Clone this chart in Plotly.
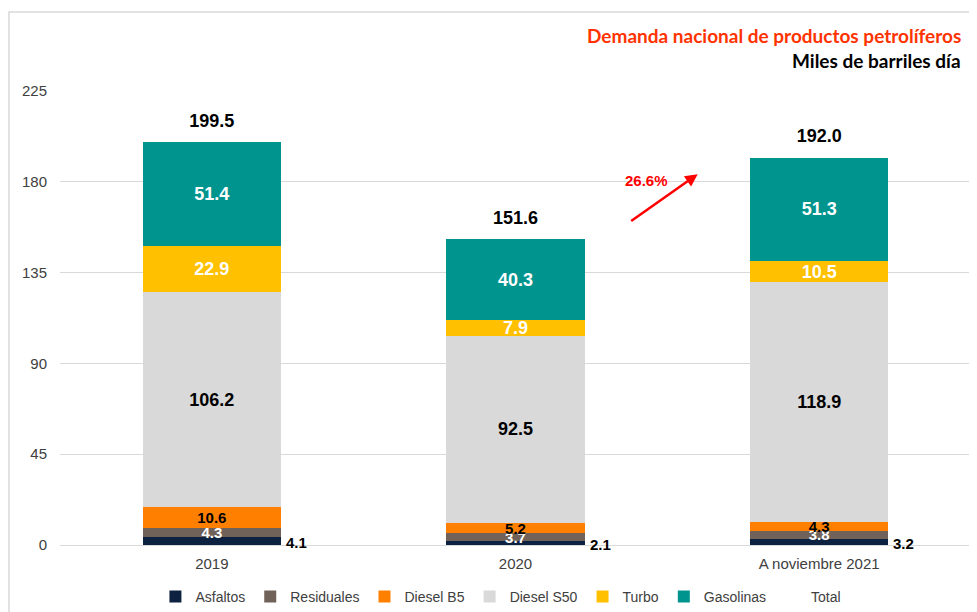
import plotly.graph_objects as go

categories = ["2019", "2020", "A noviembre 2021"]
asfaltos = [4.1, 2.1, 3.2]
residuales = [4.3, 3.7, 3.8]
diesel_b5 = [10.6, 5.2, 4.3]
diesel_s50 = [106.2, 92.5, 118.9]
turbo = [22.9, 7.9, 10.5]
gasolinas = [51.4, 40.3, 51.3]
totals = [199.5, 151.6, 192.0]
y_ticks = [0, 45, 90, 135, 180, 225]

FONT = "Liberation Sans, Arial, sans-serif"
TITLE_FONT = "Lato, Carlito, Calibri, sans-serif"

series = [
    ("Asfaltos", asfaltos, "#0D2140", "none", "black", 15),
    ("Residuales", residuales, "#706259", "inside", "white", 15),
    ("Diesel B5", diesel_b5, "#FF8000", "inside", "black", 15),
    ("Diesel S50", diesel_s50, "#D9D9D9", "inside", "black", 18),
    ("Turbo", turbo, "#FFC000", "inside", "white", 18),
    ("Gasolinas", gasolinas, "#00948F", "inside", "white", 18),
]

fig = go.Figure()
for name, vals, color, tpos, tcolor, tsize in series:
    fig.add_trace(go.Bar(
        name=name, x=categories, y=vals,
        marker=dict(color=color, line=dict(width=0)),
        text=[f"{v:.1f}" for v in vals],
        textposition=tpos,
        insidetextanchor="middle",
        textangle=0,
        constraintext="none",
        insidetextfont=dict(family=FONT, size=tsize, color=tcolor, weight="bold"),
        hoverinfo="skip",
    ))

# Total legend entry (no visible symbol)
fig.add_trace(go.Scatter(
    name="Total", x=categories, y=totals, mode="lines",
    line=dict(color="rgba(0,0,0,0)", width=0), hoverinfo="skip",
))
# Total labels above bars
fig.add_trace(go.Scatter(
    x=categories, y=totals, mode="markers+text",
    marker=dict(size=16, color="rgba(0,0,0,0)"),
    text=[f"{t:.1f}" for t in totals],
    textposition="top center",
    textfont=dict(family=FONT, size=18, color="black", weight="bold"),
    showlegend=False, hoverinfo="skip", cliponaxis=False,
))

annotations = []
# Asfaltos labels to the right of the bars (x given as category index)
for i, v in enumerate(asfaltos):
    annotations.append(dict(
        x=i, y=v / 2, xref="x", yref="y", text=f"{v:.1f}", showarrow=False,
        xanchor="left", yanchor="middle", xshift=72, yshift=-2,
        font=dict(family=FONT, size=15, color="black", weight="bold"),
    ))

# Growth arrow 2020 -> 2021
growth = (totals[2] / totals[1] - 1) * 100
annotations.append(dict(
    x=1.60, y=183.8, ax=1.376, ay=160.0, xref="x", yref="y", axref="x", ayref="y",
    text="", showarrow=True, arrowhead=2, arrowsize=1.0, arrowwidth=2.5,
    arrowcolor="#FF0000",
))
annotations.append(dict(
    x=1.432, y=180.4, xref="x", yref="y", text=f"{growth:.1f}%", showarrow=False,
    font=dict(family=FONT, size=15, color="#FF0000", weight="bold"),
))

# Titles
annotations.append(dict(
    x=0.991, y=1.123, xref="paper", yref="paper", xanchor="right", yanchor="middle",
    text="Demanda nacional de productos petrolíferos", showarrow=False,
    font=dict(family=TITLE_FONT, size=19, color="#FF3300", weight="bold"),
))
annotations.append(dict(
    x=0.991, y=1.068, xref="paper", yref="paper", xanchor="right", yanchor="middle",
    text="Miles de barriles día", showarrow=False,
    font=dict(family=TITLE_FONT, size=19, color="black", weight="bold"),
))

fig.update_layout(
    width=969, height=604,
    margin=dict(l=52, r=6, t=83, b=67, autoexpand=False),
    barmode="stack", bargap=0.545,
    plot_bgcolor="white", paper_bgcolor="white",
    font=dict(family=FONT, size=15, color="#404040"),
    xaxis=dict(type="category", categoryorder="array", categoryarray=categories,
               range=[-0.5, len(categories) - 0.5], autorange=False,
               showgrid=False, showline=False, ticks="", automargin=False,
               ticklabelstandoff=8, tickfont=dict(size=15, color="#404040")),
    yaxis=dict(range=[0, 225], autorange=False, tickvals=y_ticks, showgrid=True,
               gridcolor="#D9D9D9", automargin=False,
               gridwidth=1, zeroline=True, zerolinecolor="#D9D9D9", zerolinewidth=1,
               showline=False, ticks="", ticklabelstandoff=12,
               tickfont=dict(size=15, color="#404040")),
    legend=dict(orientation="h", x=0.484, xanchor="center",
                yref="container", y=0.025, yanchor="middle",
                font=dict(size=14, color="#404040"), traceorder="normal",
                itemclick=False, itemdoubleclick=False),
    annotations=annotations,
    shapes=[dict(type="rect", xref="paper", yref="paper",
                 x0=-0.056, x1=1.03, y0=-0.2, y1=1.174,
                 line=dict(color="#D9D9D9", width=1.5), layer="below")],
    showlegend=True,
)

fig.write_html("out.html")
